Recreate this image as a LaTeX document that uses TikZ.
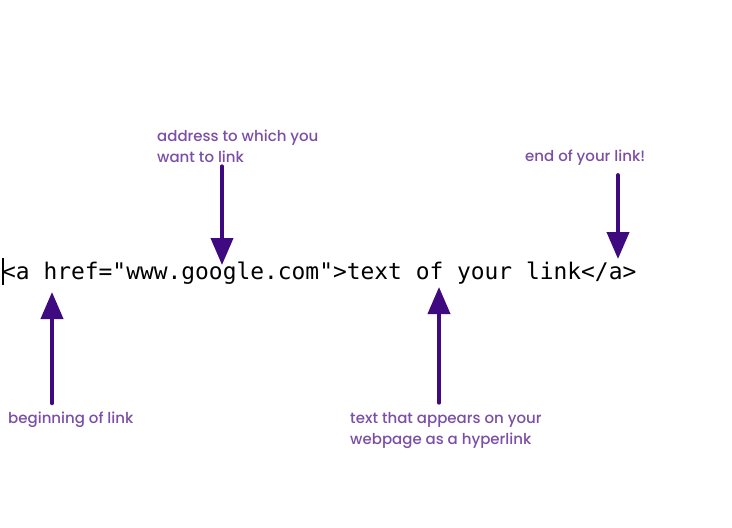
\documentclass[tikz,border=0pt]{standalone}
\usepackage{fontspec}
\setmonofont{DejaVu Sans Mono}
\newfontfamily\notefont{Poppins}[UprightFont=* Medium]
\usetikzlibrary{arrows.meta}
\definecolor{notepurple}{HTML}{7B4FA8}
\definecolor{arrowpurple}{HTML}{3F0A80}

\begin{document}
\begin{tikzpicture}[x=1pt,y=-1pt,
  lbl/.style={font=\notefont\fontsize{15}{21}\selectfont, text=notepurple,
    inner sep=0pt, align=left, anchor=base west},
  ptr/.style={-{Triangle[width=22pt,length=27pt]}, line width=4pt,
    line cap=round, arrowpurple}]
  \useasboundingbox[fill=white] (0,0) rectangle (732,528);

  %% The code line and its cursor
  \node[anchor=base west, inner sep=0pt,
    font=\ttfamily\fontsize{22.9}{26}\selectfont] (code) at (2,279)
    {<a href="www.google.com">text of your link</a>};
  \draw[line width=1.2pt] (3,258) -- (3,285);

  %% Notes (base = baseline of the last line)
  \node[lbl] (addr)  at (157,162) {address to which you\\want to link};
  \node[lbl] (end)   at (525,161) {end of your link!};
  \node[lbl] (begin) at (8,423)   {beginning of link};
  \node[lbl] (shown) at (350,444) {text that appears on your\\webpage as a hyperlink};

  %% Arrow tips on the code
  \coordinate (addrtip)  at (222,265);
  \coordinate (endtip)   at (618,259);
  \coordinate (begintip) at (52,292);
  \coordinate (showntip) at (439,287);

  %% Pointers
  \draw[ptr] ([yshift=-4pt]addrtip |- addr.south) -- (addrtip);
  \draw[ptr] ([yshift=-10pt]endtip |- end.south) -- (endtip);
  \draw[ptr] ([yshift=8pt]begintip |- begin.north) -- (begintip);
  \draw[ptr] ([yshift=9pt]showntip |- shown.north) -- (showntip);
\end{tikzpicture}
\end{document}
